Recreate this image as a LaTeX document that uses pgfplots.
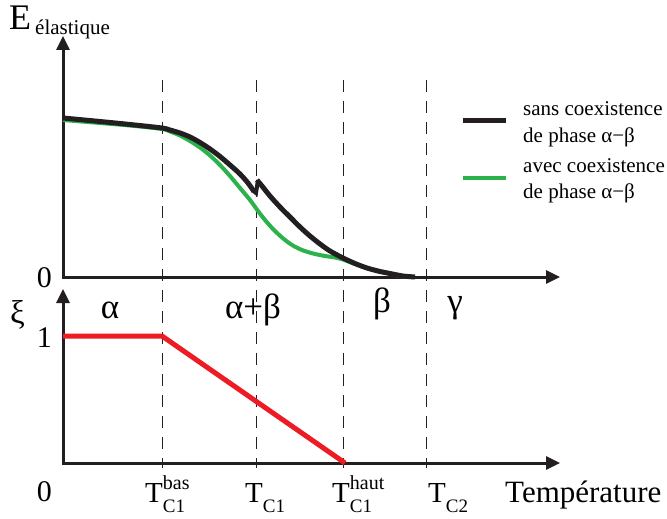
\documentclass[border=0pt]{standalone}
\usepackage{pgfplots}
\pgfplotsset{compat=1.18}
\usepackage{fontspec}
\setmainfont{Liberation Serif}
\usetikzlibrary{arrows.meta}
\definecolor{cblack}{RGB}{35,31,32}
\definecolor{cgreen}{RGB}{43,178,74}
\definecolor{cred}{RGB}{237,28,36}
\newcommand{\fs}[1]{\fontsize{#1}{#1}\selectfont}
\newcommand{\Tlab}[2]{T\rlap{\raisebox{13pt}{\fs{20}#2}}\raisebox{-10pt}{\fs{19}#1}}
\begin{document}
\begin{tikzpicture}
\useasboundingbox (0,0) rectangle (667pt,519pt);
\begin{axis}[at={(0,0)},anchor=south west,x=1pt,y=1pt,
  xmin=0,xmax=667,ymin=0,ymax=519,y dir=reverse,
  hide axis,clip=false]
% phase boundaries
\draw[cblack,line width=1pt,dash pattern=on 12pt off 9pt] (axis cs:162,80) -- (axis cs:162,468);
\draw[cblack,line width=1pt,dash pattern=on 12pt off 9pt] (axis cs:256,80) -- (axis cs:256,468);
\draw[cblack,line width=1pt,dash pattern=on 12pt off 9pt] (axis cs:343,80) -- (axis cs:343,468);
\draw[cblack,line width=1pt,dash pattern=on 12pt off 9pt] (axis cs:426,80) -- (axis cs:426,468);
% axes
\draw[cblack,line width=3pt,-{Triangle[width=13pt,length=14pt]}] (axis cs:63,278) -- (axis cs:63,36);
\draw[cblack,line width=3pt,-{Triangle[width=13pt,length=14pt]}] (axis cs:62,277) -- (axis cs:560,277);
\draw[cblack,line width=3pt,-{Triangle[width=13pt,length=14pt]}] (axis cs:63,464) -- (axis cs:63,289);
\draw[cblack,line width=3pt,-{Triangle[width=13pt,length=14pt]}] (axis cs:62,463) -- (axis cs:560,463);
% elastic energy, with coexistence
\addplot[cgreen,line width=4pt,smooth] coordinates {
(63,120) (100,123) (130,125.5) (162,129) (170,131.5) (180,135.5) (190,141) (200,147.5)
(210,155.5) (220,165) (230,176) (240,188) (250,200) (258,211) (265,220) (273,229)
(282,237.5) (292,245) (302,250) (313,253.5) (325,256) (335,257.5) (343,259.5)
(355,264) (367,268) (380,271.5) (390,273.5) (400,276) (410,277)};
% elastic energy, without coexistence
\addplot[cblack,line width=5pt,smooth] coordinates {
(63,118) (100,121.5) (130,124.5) (162,128) (170,130) (180,133) (190,137) (200,142.5)
(210,149) (220,156.5) (230,165) (240,174) (248,183) (254,191.5)};
\addplot[cblack,line width=4pt] coordinates {(253,190.5) (256,193) (258,180)};
\addplot[cblack,line width=5pt,smooth] coordinates {
(257,180) (262,186) (270,196) (280,207) (290,217) (300,227) (310,236) (320,244)
(330,251) (343,258) (355,263.5) (367,268) (380,271.5) (390,273.5) (403,276) (415,277)};
% order parameter
\addplot[cred,line width=5pt] coordinates {(63,336) (162,336) (345,463)};
% legend
\draw[cblack,line width=5pt] (axis cs:463,120) -- (axis cs:506,120);
\draw[cgreen,line width=4pt] (axis cs:463,178) -- (axis cs:506,178);
\node[anchor=base west,inner sep=0pt,font=\fs{21}] at (axis cs:523,115) {sans coexistence};
\node[anchor=base west,inner sep=0pt,font=\fs{21}] at (axis cs:523,142) {de phase α−β};
\node[anchor=base west,inner sep=0pt,font=\fs{21}] at (axis cs:523,172) {avec coexistence};
\node[anchor=base west,inner sep=0pt,font=\fs{21}] at (axis cs:523,198) {de phase α−β};
% axis titles
\node[anchor=base west,inner sep=0pt,font=\fs{36}] at (axis cs:9,30) {E};
\node[anchor=base west,inner sep=0pt,font=\fs{21}] at (axis cs:35,35) {élastique};
\node[anchor=base west,inner sep=0pt,font=\fs{33}] at (axis cs:10,323) {ξ};
\node[anchor=base west,inner sep=0pt,font=\fs{31}] at (axis cs:505,502) {Température};
% y values
\node[anchor=base east,inner sep=0pt,font=\fs{30}] at (axis cs:52,287) {0};
\node[anchor=base east,inner sep=0pt,font=\fs{30}] at (axis cs:52,347) {1};
\node[anchor=base east,inner sep=0pt,font=\fs{30}] at (axis cs:52,501) {0};
% phases
\node[anchor=base,inner sep=0pt,font=\fs{35}] at (axis cs:110,318) {α};
\node[anchor=base,inner sep=0pt,font=\fs{35}] at (axis cs:253,318) {α+β};
\node[anchor=base,inner sep=0pt,font=\fs{35}] at (axis cs:382,312) {β};
\node[anchor=base,inner sep=0pt,font=\fs{35}] at (axis cs:455,312) {γ};
% temperatures
\node[anchor=base west,inner sep=0pt,font=\fs{29}] at (axis cs:145,502) {\Tlab{C1}{bas}};
\node[anchor=base west,inner sep=0pt,font=\fs{29}] at (axis cs:245,502) {\Tlab{C1}{}};
\node[anchor=base west,inner sep=0pt,font=\fs{29}] at (axis cs:332,502) {\Tlab{C1}{haut}};
\node[anchor=base west,inner sep=0pt,font=\fs{29}] at (axis cs:428,502) {\Tlab{C2}{}};
\end{axis}
\end{tikzpicture}
\end{document}
